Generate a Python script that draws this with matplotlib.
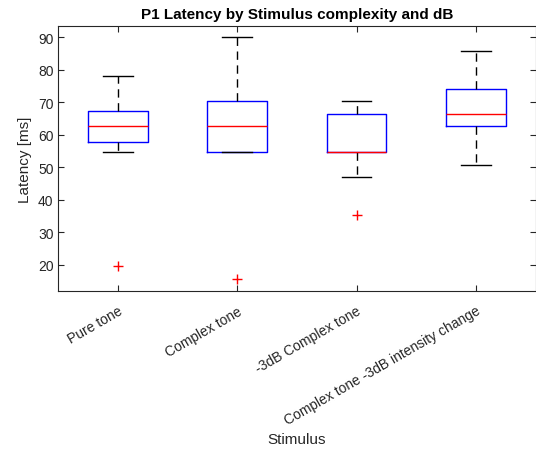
import matplotlib
matplotlib.use("Agg")
import matplotlib.pyplot as plt

plt.rcParams['font.family'] = ['Liberation Sans', 'DejaVu Sans']

categories = ["Pure tone", "Complex tone", "-3dB Complex tone",
              "Complex tone -3dB intensity change"]
q1 = [57.7, 54.7, 54.7, 62.6]
medians = [62.6, 62.6, 54.7, 66.5]
q3 = [67.4, 70.3, 66.4, 74.2]
whisker_low = [54.7, 54.7, 46.9, 50.8]
whisker_high = [78.2, 90.0, 70.4, 85.9]
outliers = [[19.5], [15.6], [35.3], []]

stats = []
for i, name in enumerate(categories):
    stats.append(dict(label=name, q1=q1[i], med=medians[i], q3=q3[i],
                      whislo=whisker_low[i], whishi=whisker_high[i],
                      fliers=outliers[i]))

fig = plt.figure(figsize=(5.36, 4.56), dpi=100)
ax = fig.add_axes([58.3 / 536, 1 - 292 / 456, (535.5 - 58.3) / 536, (292 - 27) / 456])

positions = [1, 2, 3, 4]
ax.bxp(stats, positions=positions, widths=0.5, capwidths=0.25,
       boxprops=dict(color='#0000ff', linewidth=1.0),
       medianprops=dict(color='#ff0000', linewidth=1.0),
       whiskerprops=dict(color='black', linewidth=1.0, linestyle=(0, (6, 4))),
       capprops=dict(color='black', linewidth=1.0),
       flierprops=dict(marker='+', markeredgecolor='#ff0000', markersize=7,
                       markeredgewidth=1.0, linestyle='none'))

ax.set_xlim(0.5, 4.5)
ax.set_ylim(11.9, 93.5)
ax.set_yticks([20, 30, 40, 50, 60, 70, 80, 90])
ax.set_xticks(positions)
ax.set_xticklabels(categories, rotation=30, ha='right', rotation_mode='anchor',
                   fontsize=10, color='#262626')
ax.tick_params(axis='both', direction='in', top=True, right=True,
               length=4, width=0.8, color='#262626', labelcolor='#262626',
               labelsize=10)
ax.tick_params(axis='x', pad=9)
for sp in ax.spines.values():
    sp.set_color('#262626')
    sp.set_linewidth(0.8)

ax.set_title("P1 Latency by Stimulus complexity and dB", fontsize=11,
             fontweight='bold', color='black', pad=6)
ax.set_xlabel("Stimulus", fontsize=11, color='#262626', labelpad=3)
ax.set_ylabel("Latency [ms]", fontsize=11, color='#262626')

fig.savefig("out.png", dpi=100)
